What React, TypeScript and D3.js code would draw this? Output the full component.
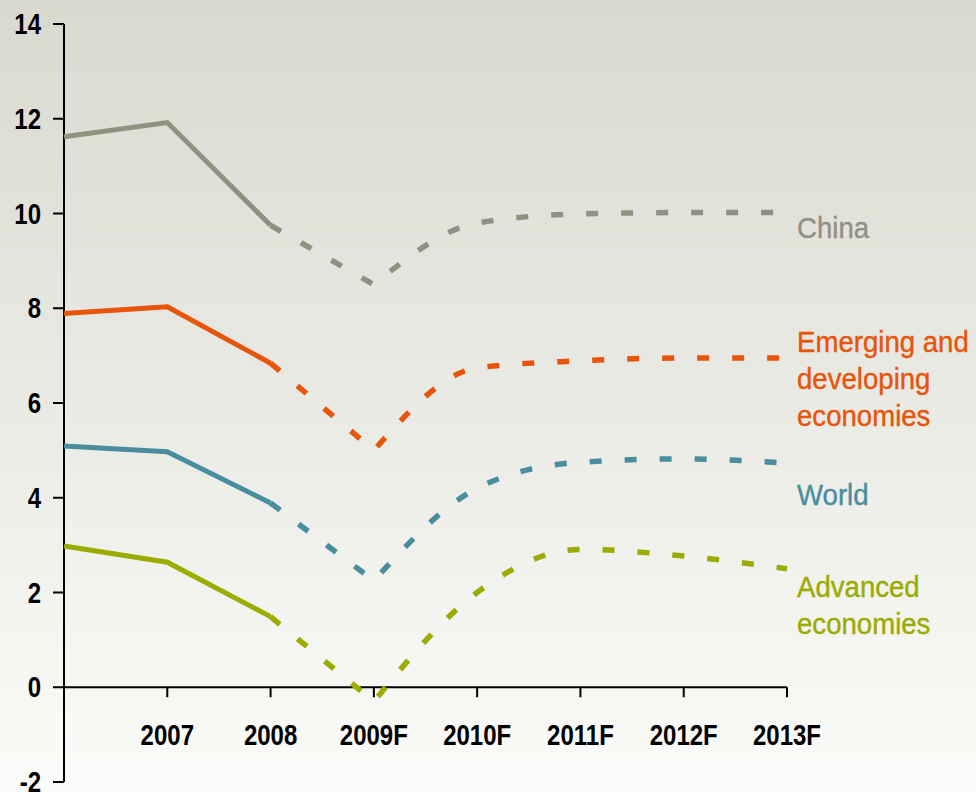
import React from "react";
import * as d3 from "d3";

const years = ["2006", "2007", "2008", "2009F", "2010F", "2011F", "2012F", "2013F"];
const xTickLabels = ["", "2007", "2008", "2009F", "2010F", "2011F", "2012F", "2013F"];
const yTicks = [-2, 0, 2, 4, 6, 8, 10, 12, 14];

const china = [11.62, 11.92, 9.75, 8.5, 9.8, 9.99, 10.02, 10.02];
const emerging = [7.89, 8.03, 6.84, 5.0, 6.74, 6.89, 6.95, 6.95];
const world = [5.09, 4.97, 3.89, 2.25, 4.2, 4.75, 4.82, 4.73];
const advanced = [2.98, 2.64, 1.49, -0.3, 2.0, 2.91, 2.77, 2.5];

const seriesNames = ["China", "Emerging and developing economies", "World", "Advanced economies"];
const seriesLabelLines = [["China"], ["Emerging and", "developing", "economies"], ["World"], ["Advanced", "economies"]];
const seriesColors = ["#91917f", "#e8540a", "#4a8d9e", "#9bab00"];
const seriesLabelBaselines = [238, 352, 505, 597];

const W = 976;
const H = 792;

export default function App() {
  const x = d3.scaleLinear().domain([0, years.length - 1]).range([64, 787]);
  const y = d3.scaleLinear().domain([-2, 14]).range([782, 24]);
  const allSeries = [china, emerging, world, advanced];

  const lineLinear = d3
    .line<number>()
    .x((_, i) => x(i))
    .y((d) => y(d))
    .curve(d3.curveLinear);

  const makeDashed = (vals: number[]) => {
    const pts: [number, number][] = vals.map((v, i) => [x(i), y(v)]);
    const seg1 = d3.line().curve(d3.curveLinear)(pts.slice(2, 4)) || "";
    const seg2 = d3.line().curve(d3.curveMonotoneX)(pts.slice(3)) || "";
    return seg1 + seg2.replace(/^M/, "L");
  };

  const tickFont = "'Liberation Sans', Arial, sans-serif";
  const labelFont = "'Liberation Sans', Arial, sans-serif";
  const tickScale = 0.8;

  return (
    <svg
      width={W}
      height={H}
      style={{ position: "fixed", left: 0, top: 0, display: "block" }}
    >
      <defs>
        <linearGradient id="bg" x1="0" y1="0" x2="0" y2="1">
          <stop offset="0" stopColor="#d9d9d0" />
          <stop offset="1" stopColor="#fbfbf9" />
        </linearGradient>
      </defs>
      <rect x={0} y={0} width={W} height={H} fill="url(#bg)" />

      {/* axes */}
      <g stroke="#000" strokeWidth={2} fill="none">
        <line x1={x(0)} x2={x(0)} y1={y(14)} y2={y(-2)} />
        <line x1={x(0)} x2={x(years.length - 1)} y1={y(0)} y2={y(0)} />
        {yTicks.map((t) => (
          <line key={"yt" + t} x1={x(0) - 11} x2={x(0)} y1={y(t)} y2={y(t)} />
        ))}
        {years.map((yr, i) => (
          <line key={"xt" + yr} x1={x(i)} x2={x(i)} y1={y(0)} y2={y(0) + 10} />
        ))}
      </g>
      <g fontFamily={tickFont} fontWeight="bold" fontSize={30} fill="#000">
        {yTicks.map((t) => (
          <g key={"yl" + t} transform={`translate(41, ${y(t) + 10}) scale(${tickScale}, 1)`}>
            <text x={0} y={0} textAnchor="end">
              {String(t)}
            </text>
          </g>
        ))}
        {xTickLabels.map((lab, i) => (
          <g key={"xl" + i} transform={`translate(${x(i)}, ${y(0) + 58}) scale(${tickScale}, 1)`}>
            <text x={0} y={0} textAnchor="middle">
              {lab}
            </text>
          </g>
        ))}
      </g>

      {/* series */}
      {allSeries.map((vals, si) => (
        <g key={seriesNames[si]}>
          <path
            d={lineLinear(vals.slice(0, 3)) || ""}
            fill="none"
            stroke={seriesColors[si]}
            strokeWidth={5}
            strokeLinejoin="miter"
          />
          <path
            d={makeDashed(vals)}
            fill="none"
            stroke={seriesColors[si]}
            strokeWidth={5.5}
            strokeDasharray="12 23"
            strokeLinecap="butt"
          />
        </g>
      ))}

      {/* series labels */}
      {seriesLabelLines.map((lines, si) => (
        <g
          key={"lab" + si}
          transform={`translate(797, ${seriesLabelBaselines[si]}) scale(0.92, 1)`}
          fontFamily={labelFont}
          fontSize={30}
          fill={seriesColors[si]}
          stroke={seriesColors[si]}
          strokeWidth={0.4}
        >
          {lines.map((ln, li) => (
            <text key={li} x={0} y={li * 37}>
              {ln}
            </text>
          ))}
        </g>
      ))}
    </svg>
  );
}
